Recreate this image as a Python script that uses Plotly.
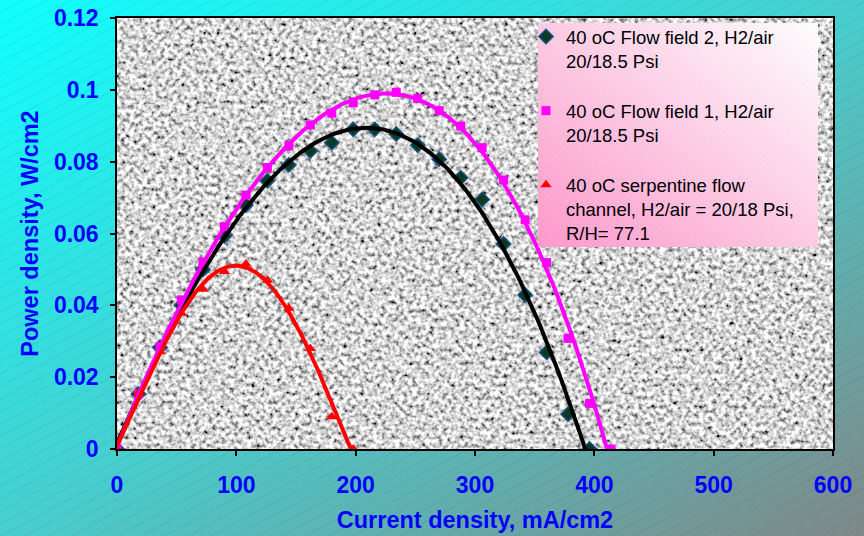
import base64
import numpy as np
import plotly.graph_objects as go

# ---------------- data ----------------
x_ff2 = [0, 18, 36, 54, 72, 90, 108, 126, 144, 162, 180, 198, 216, 234, 252, 270,
         288, 306, 324, 342, 360, 378, 396]
y_ff2 = [0, 0.0153, 0.0283, 0.0400, 0.0500, 0.0593, 0.0679, 0.0747, 0.0791, 0.0830,
         0.0853, 0.0890, 0.0890, 0.0877, 0.0846, 0.0807, 0.0755, 0.0695, 0.0571,
         0.0429, 0.0269, 0.0097, 0]

x_ff1 = [0, 18, 36, 54, 72, 90, 108, 126, 144, 162, 180, 198, 216, 234, 252, 270,
         288, 306, 324, 342, 360, 378, 396, 414]
y_ff1 = [0, 0.0153, 0.0285, 0.0415, 0.0521, 0.0619, 0.0707, 0.0784, 0.0844, 0.0902,
         0.0935, 0.0964, 0.0986, 0.0993, 0.0976, 0.0942, 0.0899, 0.0839, 0.0749,
         0.0638, 0.0519, 0.0308, 0.0127, 0]

x_serp = [0, 18, 36, 54, 72, 90, 108, 126, 144, 162, 180, 198]
y_serp = [0, 0.0155, 0.0271, 0.0378, 0.0445, 0.0494, 0.0515, 0.0470, 0.0392,
          0.0280, 0.0090, 0]

names = ["40 oC Flow field 2, H2/air<br>20/18.5 Psi",
         "40 oC Flow field 1, H2/air<br>20/18.5 Psi",
         "40 oC serpentine flow<br>channel, H2/air = 20/18 Psi,<br>R/H= 77.1"]

x_ticks = [0, 100, 200, 300, 400, 500, 600]
y_ticks = [0, 0.02, 0.04, 0.06, 0.08, 0.1, 0.12]

FONT = "Arial, 'Liberation Sans', sans-serif"


def trend(xs, ys, deg=3, n=200):
    c = np.polyfit(xs, ys, deg)
    xx = np.linspace(min(xs), max(xs), n)
    return xx, np.polyval(c, xx)


def svg_uri(svg):
    return "data:image/svg+xml;base64," + base64.b64encode(svg.encode()).decode()


W, H = 864, 536
L, R, T, B = 117, 31, 18, 87
PW, PH = W - L - R, H - T - B

bg_svg = f"""<svg xmlns='http://www.w3.org/2000/svg' width='{W}' height='{H}'>
<defs>
<linearGradient id='g' x1='0' y1='0' x2='1' y2='1'>
<stop offset='0' stop-color='#10FFFF'/>
<stop offset='0.5' stop-color='#48CECE'/>
<stop offset='1' stop-color='#808888'/>
</linearGradient>
<pattern id='h' width='11' height='11' patternUnits='userSpaceOnUse' patternTransform='rotate(-28)'>
<line x1='0' y1='0' x2='11' y2='0' stroke='#000' stroke-opacity='0.13' stroke-width='1'/>
</pattern>
</defs>
<rect width='{W}' height='{H}' fill='url(#g)'/>
<rect width='{W}' height='{H}' fill='url(#h)'/>
</svg>"""

tex_svg = f"""<svg xmlns='http://www.w3.org/2000/svg' width='{PW}' height='{PH}'>
<filter id='n' x='0' y='0' width='100%' height='100%'>
<feTurbulence type='fractalNoise' baseFrequency='0.23' numOctaves='2' seed='7'/>
<feColorMatrix type='matrix' values='1 0 0 0 0  1 0 0 0 0  1 0 0 0 0  0 0 0 0 1'/>
<feComponentTransfer>
<feFuncR type='linear' slope='2.1' intercept='-0.38'/>
<feFuncG type='linear' slope='2.1' intercept='-0.38'/>
<feFuncB type='linear' slope='2.1' intercept='-0.38'/>
</feComponentTransfer>
</filter>
<rect width='{PW}' height='{PH}' fill='#b0b0b0'/>
<rect width='{PW}' height='{PH}' filter='url(#n)'/>
</svg>"""

LX0, LY0, LX1, LY1 = 538, 23, 818, 247
lg_svg = f"""<svg xmlns='http://www.w3.org/2000/svg' width='{LX1-LX0}' height='{LY1-LY0}'>
<defs>
<linearGradient id='p' x1='1' y1='0' x2='0' y2='1'>
<stop offset='0' stop-color='#FFFFFF'/>
<stop offset='1' stop-color='#FF99CC'/>
</linearGradient>
<pattern id='k' width='4' height='4' patternUnits='userSpaceOnUse' patternTransform='rotate(40)'>
<line x1='0' y1='0' x2='4' y2='0' stroke='#999' stroke-opacity='0.22' stroke-width='0.7'/>
</pattern>
</defs>
<rect width='100%' height='100%' fill='url(#p)'/>
<rect width='100%' height='100%' fill='url(#k)'/>
</svg>"""

fig = go.Figure()

fig.add_trace(go.Scatter(
    x=x_ff2, y=y_ff2, mode="markers", name=names[0], legendgroup="a",
    marker=dict(symbol="diamond", size=11, color="#0B3A22",
                line=dict(color="#1A4F80", width=1.5))))
fig.add_trace(go.Scatter(
    x=x_ff1, y=y_ff1, mode="markers", name=names[1], legendgroup="b",
    marker=dict(symbol="square", size=9, color="#FF00FF")))
fig.add_trace(go.Scatter(
    x=x_serp, y=y_serp, mode="markers", name=names[2], legendgroup="c",
    marker=dict(symbol="triangle-up", size=10, color="#FF0000")))

for xs, ys, col, g, deg in [(x_ff2, y_ff2, "#000000", "a", 3),
                            (x_ff1, y_ff1, "#FF00FF", "b", 4),
                            (x_serp, y_serp, "#FF0000", "c", 4)]:
    tx, ty = trend(xs, ys, deg)
    fig.add_trace(go.Scatter(x=tx, y=ty, mode="lines", showlegend=False,
                             legendgroup=g, hoverinfo="skip",
                             line=dict(color=col, width=4)))

axis_common = dict(
    showline=True, linecolor="black", linewidth=1.5, mirror=True,
    ticks="outside", ticklen=5, tickcolor="black", tickwidth=1.5,
    showgrid=False, zeroline=False,
    tickfont=dict(family=FONT, size=23, color="#0000FF", weight="bold"),
)

fig.update_xaxes(range=[0, 600], tickvals=x_ticks, ticklabelstandoff=10,
                 title=dict(text="Current density, mA/cm2", standoff=14,
                            font=dict(family=FONT, size=23.5, color="#0000FF", weight="bold")),
                 **axis_common)
fig.update_yaxes(range=[0, 0.12], tickvals=y_ticks, ticklabelstandoff=7,
                 title=dict(text="Power density, W/cm2", standoff=9,
                            font=dict(family=FONT, size=23.5, color="#0000FF", weight="bold")),
                 **axis_common)

fig.update_layout(
    width=W, height=H,
    margin=dict(l=L, r=R, t=T, b=B, autoexpand=False),
    paper_bgcolor="#48CECE",
    plot_bgcolor="rgba(0,0,0,0)",
    font=dict(family=FONT),
    showlegend=True,
    legend=dict(
        x=(526 - L) / PW, y=1 + (T - 18) / PH, xanchor="left", yanchor="top",
        bgcolor="rgba(0,0,0,0)", borderwidth=0, valign="top",
        tracegroupgap=23, traceorder="grouped",
        font=dict(family=FONT, size=18.5, color="black"),
    ),
    images=[
        dict(source=svg_uri(bg_svg), xref="paper", yref="paper",
             x=-L / PW, y=1 + T / PH, sizex=W / PW, sizey=H / PH,
             xanchor="left", yanchor="top", sizing="stretch", layer="below"),
        dict(source=svg_uri(tex_svg), xref="paper", yref="paper",
             x=0, y=1, sizex=1, sizey=1,
             xanchor="left", yanchor="top", sizing="stretch", layer="below"),
        dict(source=svg_uri(lg_svg), xref="paper", yref="paper",
             x=(LX0 - L) / PW, y=1 - (LY0 - T) / PH,
             sizex=(LX1 - LX0) / PW, sizey=(LY1 - LY0) / PH,
             xanchor="left", yanchor="top", sizing="stretch", layer="above"),
    ],
)

fig.write_html("out.html", config={"displayModeBar": False},
               post_script="document.body.style.margin='0';")
